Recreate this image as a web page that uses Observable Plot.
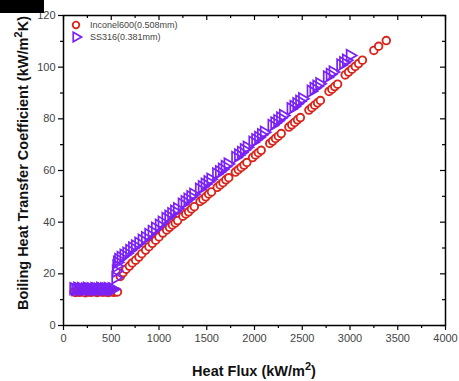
<!DOCTYPE html>
<html>
<head>
<meta charset="utf-8">
<script src="https://cdn.jsdelivr.net/npm/d3@7"></script>
<script src="https://cdn.jsdelivr.net/npm/@observablehq/plot@0.6"></script>
<style>
  body { margin: 0; background: #fff; }
  #chart { position: relative; width: 459px; height: 381px; }
  #corner { position: absolute; left: 0; top: 0; width: 44px; height: 13px; background: #000; }
</style>
</head>
<body>
<div id="chart"><div id="corner"></div></div>
<script>
// Inconel600 (0.508 mm) — heat flux (kW/m²) and boiling HTC (kW/m²K)
const inconelFlux = [
  110, 130, 150, 170, 190, 210, 230, 250, 270, 290, 310, 330, 350, 370, 390, 410, 430, 450, 470, 490, 510, 530, 550, 565,
  595, 625, 655, 690, 720, 755, 790, 820, 860, 895, 930, 965, 1000, 1040,
  1080, 1110, 1140, 1170, 1195,
  1250, 1280, 1310, 1340, 1370,
  1430, 1460, 1490, 1520, 1550,
  1610, 1640, 1670, 1700, 1730,
  1800, 1830, 1860, 1890, 1920,
  1980, 2010, 2040, 2070,
  2160, 2190, 2220, 2250, 2280,
  2360, 2390, 2420, 2450, 2480,
  2570, 2600, 2630, 2660, 2690,
  2780, 2810, 2840, 2870,
  2950, 2985, 3020, 3055, 3090, 3130,
  3250, 3300, 3380
];
const inconelHTC = [
  13.0, 12.8, 13.2, 12.9, 13.1, 13.0, 12.7, 13.2, 13.0, 12.9, 13.1, 13.3, 12.8, 13.0, 13.2, 12.9, 13.1, 13.0, 12.8, 13.2, 13.0, 12.9, 13.1, 13.0,
  19.0, 20.5, 21.8, 23.0, 24.2, 25.3, 26.5, 27.8, 29.2, 30.5, 31.8, 33.0, 34.3, 35.8,
  37.0, 38.0, 38.9, 39.7, 40.6,
  42.3, 43.2, 44.0, 45.1, 46.0,
  48.0, 48.8, 49.8, 50.9, 51.7,
  53.5, 54.4, 55.3, 56.4, 57.2,
  59.4, 60.3, 61.2, 62.1, 63.1,
  65.0, 66.0, 66.9, 67.8,
  70.5, 71.4, 72.4, 73.3, 74.3,
  76.8, 77.7, 78.6, 79.6, 80.5,
  83.4, 84.3, 85.3, 86.2, 87.1,
  90.6, 91.5, 92.5, 93.4,
  97.0, 98.1, 99.2, 100.3, 101.4, 102.7,
  106.5, 108.1, 110.3
];

// SS316 (0.381 mm)
const ssFlux = [
  105, 125, 145, 165, 185, 205, 225, 245, 265, 285, 305, 325, 345, 365, 385, 405, 425, 445, 465, 485, 505, 520,
  545, 550, 555, 562, 575, 600, 630, 660, 690, 720, 750, 785, 820, 855, 890, 925, 960, 1000, 1030,
  1070, 1100, 1130, 1160, 1190,
  1240, 1270, 1300, 1330, 1360,
  1420, 1450, 1480, 1510, 1540,
  1600, 1630, 1660, 1690, 1720,
  1800, 1830, 1860, 1890, 1920,
  1980, 2010, 2040, 2070, 2100,
  2180, 2210, 2240, 2270, 2300,
  2380, 2410, 2440, 2470, 2500,
  2590, 2620, 2650, 2680,
  2760, 2790, 2820,
  2900, 2930, 2960, 3000
];
const ssHTC = [
  14.2, 13.9, 14.4, 14.0, 14.3, 13.8, 14.1, 14.4, 14.0, 14.2, 13.9, 14.3, 14.1, 14.0, 14.4, 13.9, 14.2, 14.1, 14.3, 13.9, 14.2, 14.0,
  18.5, 21.0, 23.0, 24.5, 25.5, 26.3, 27.2, 28.0, 29.0, 30.0, 30.8, 31.8, 33.0, 34.0, 35.2, 36.4, 37.6, 38.8, 40.0,
  41.4, 42.3, 43.3, 44.2, 45.2,
  46.9, 47.9, 48.9, 49.8, 50.8,
  52.7, 53.7, 54.7, 55.6, 56.6,
  58.6, 59.5, 60.5, 61.5, 62.5,
  65.0, 66.0, 67.0, 68.0, 69.0,
  70.9, 71.9, 72.8, 73.8, 74.8,
  77.4, 78.4, 79.3, 80.3, 81.3,
  83.9, 84.8, 85.8, 86.8, 87.8,
  90.7, 91.7, 92.6, 93.6,
  96.2, 97.2, 98.1,
  100.8, 101.7, 102.7, 104.5
];

// Axis ticks
const xMajorTicks = [0, 500, 1000, 1500, 2000, 2500, 3000, 3500, 4000];
const xMinorTicks = [250, 750, 1250, 1750, 2250, 2750, 3250, 3750];
const yMajorTicks = [0, 20, 40, 60, 80, 100, 120];
const yMinorTicks = [10, 30, 50, 70, 90, 110];

const seriesNames = ["Inconel600(0.508mm)", "SS316(0.381mm)"];
const seriesColors = ["#d8261c", "#7a22f5"];

const inconel = inconelFlux.map((q, i) => ({q, h: inconelHTC[i]}));
const ss = ssFlux.map((q, i) => ({q, h: ssHTC[i]}));

const font = "'Liberation Sans', Arial, sans-serif";
const plain = d => String(d);

const plot = Plot.plot({
  width: 459,
  height: 381,
  marginLeft: 63,
  marginRight: 14,
  marginTop: 15,
  marginBottom: 56,
  style: {fontFamily: font, fontSize: "11px", background: "transparent", overflow: "visible"},
  x: {domain: [0, 4000]},
  y: {domain: [0, 120]},
  marks: [
    // outward ticks with labels
    Plot.axisX(xMajorTicks, {tickSize: 5, tickPadding: 4, tickFormat: plain, label: null, stroke: "#000", fill: "#444", strokeWidth: 1.2}),
    Plot.axisX(xMinorTicks, {tickSize: 3, tickFormat: () => "", label: null, stroke: "#000", strokeWidth: 1.2}),
    Plot.axisY(yMajorTicks, {tickSize: 5, tickPadding: 3, tickFormat: plain, label: null, stroke: "#000", fill: "#444", strokeWidth: 1.2}),
    Plot.axisY(yMinorTicks, {tickSize: 3, tickFormat: () => "", label: null, stroke: "#000", strokeWidth: 1.2}),
    // inward ticks on the top and right edges
    Plot.ruleX(xMajorTicks, {y1: 120, y2: 120, insetBottom: -5, stroke: "#000", strokeWidth: 1.2}),
    Plot.ruleX(xMinorTicks, {y1: 120, y2: 120, insetBottom: -3, stroke: "#000", strokeWidth: 1.2}),
    Plot.ruleY(yMajorTicks, {x1: 4000, x2: 4000, insetLeft: -5, stroke: "#000", strokeWidth: 1.2}),
    Plot.ruleY(yMinorTicks, {x1: 4000, x2: 4000, insetLeft: -3, stroke: "#000", strokeWidth: 1.2}),
    Plot.frame({stroke: "#000", strokeWidth: 1.5}),
    Plot.dot(inconel, {x: "q", y: "h", r: 3.8, stroke: seriesColors[0], strokeWidth: 1.9, fill: "#fff"}),
    Plot.dot(ss, {x: "q", y: "h", symbol: "triangle", r: 4.3, rotate: 90, stroke: seriesColors[1], strokeWidth: 1.7, fill: "none"})
  ]
});

document.getElementById("chart").appendChild(plot);

const svg = d3.select(plot);

// Legend in the upper-left corner of the plotting area
const legend = svg.append("g").attr("font-family", font).attr("font-size", 9)
  .attr("fill", "#444").attr("text-anchor", "start");
legend.append("circle").attr("cx", 76).attr("cy", 25).attr("r", 3.3)
  .attr("fill", "#fff").attr("stroke", seriesColors[0]).attr("stroke-width", 1.8);
legend.append("text").attr("x", 90).attr("y", 25).attr("dy", "0.35em").text(seriesNames[0]);
legend.append("path").attr("d", d3.symbol(d3.symbolTriangle, 40)()).attr("transform", "translate(76,37) rotate(90)")
  .attr("fill", "none").attr("stroke", seriesColors[1]).attr("stroke-width", 1.7);
legend.append("text").attr("x", 90).attr("y", 37).attr("dy", "0.35em").text(seriesNames[1]);

// Axis titles with superscripts
const xt = svg.append("text").attr("x", 254).attr("y", 376).attr("text-anchor", "middle")
  .attr("font-family", font).attr("font-weight", "bold").attr("font-size", 14.5).attr("fill", "#111");
xt.append("tspan").text("Heat Flux (kW/m");
xt.append("tspan").attr("dy", -6).attr("font-size", 11).text("2");
xt.append("tspan").attr("dy", 6).text(")");

const yt = svg.append("text").attr("transform", "translate(28,163) rotate(-90)").attr("text-anchor", "middle")
  .attr("font-family", font).attr("font-weight", "bold").attr("font-size", 14.5).attr("fill", "#111");
yt.append("tspan").text("Boiling Heat Transfer Coefficient (kW/m");
yt.append("tspan").attr("dy", -6).attr("font-size", 11.5).text("2");
yt.append("tspan").attr("dy", 6).text("K)");
</script>
</body>
</html>
